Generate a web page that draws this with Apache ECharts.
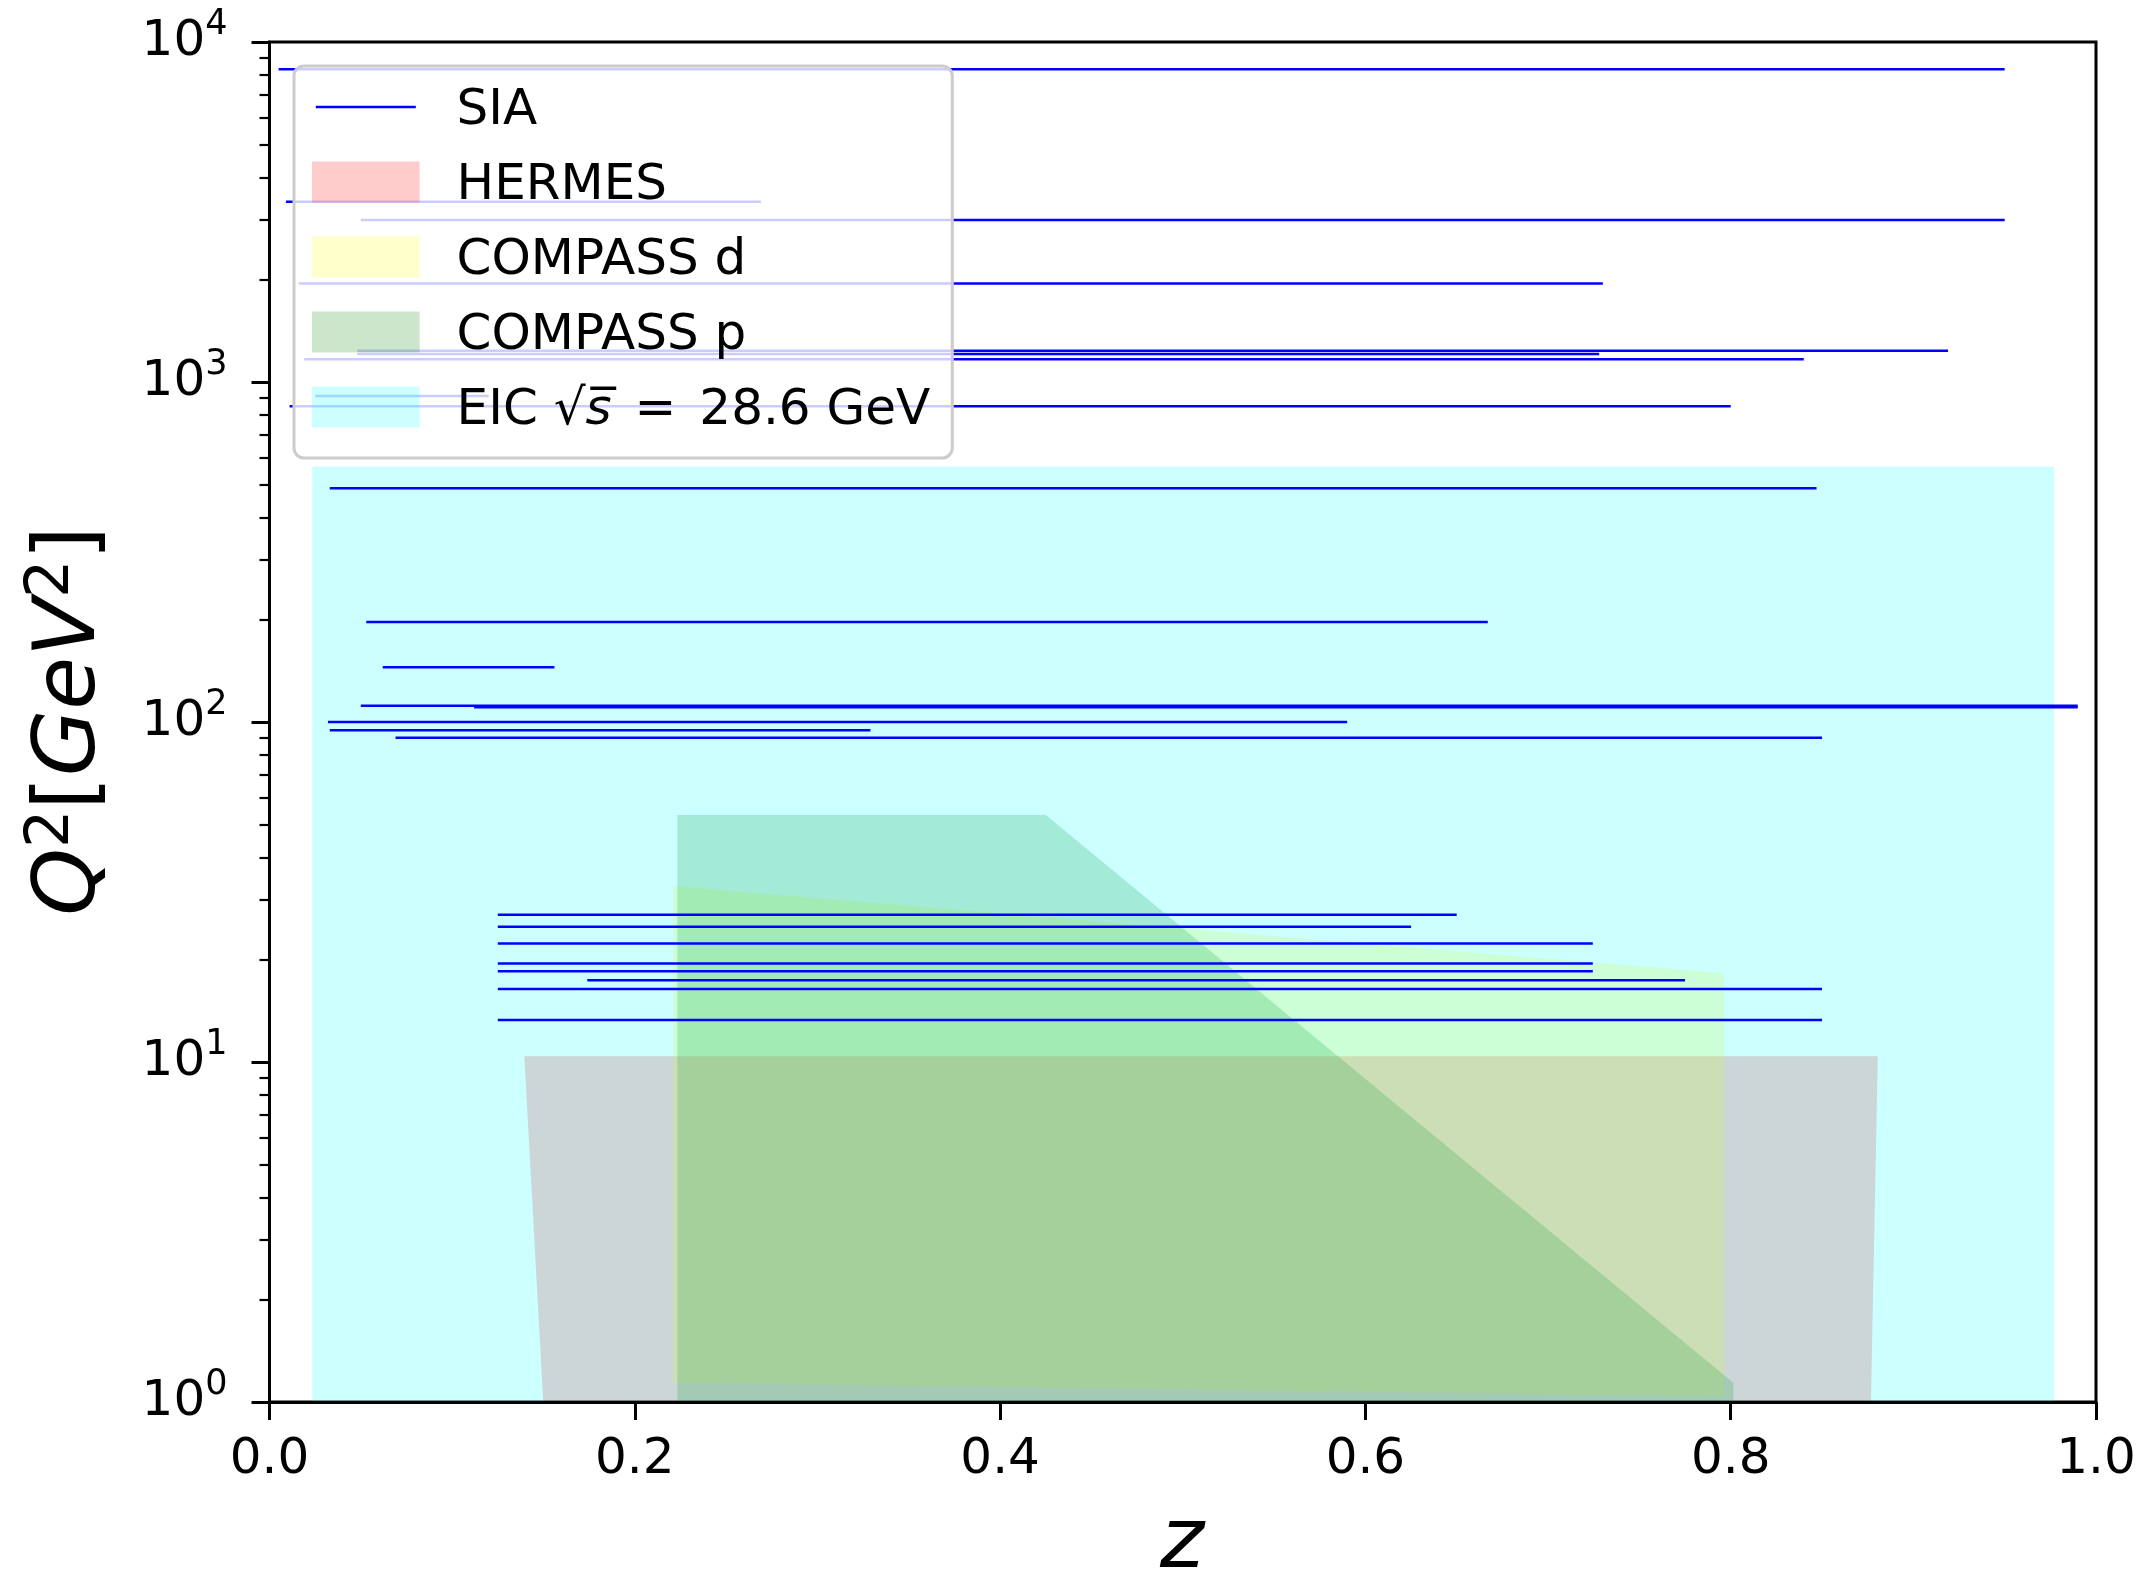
<!DOCTYPE html>
<html><head><meta charset="utf-8">
<script src="https://cdn.jsdelivr.net/npm/echarts@6/dist/echarts.min.js"></script>
<style>html,body{margin:0;padding:0;background:#fff}#c{width:2145px;height:1576px}</style>
</head><body><div id="c"></div>
<script>
// ---- data ----
const siaQ2   = [8315, 3390, 2995, 1950, 1236, 1209, 1166, 910, 848, 487, 197, 145, 111.7, 110.5, 100, 94.6, 89.9, 27.1, 25.0, 22.3, 19.5, 18.5, 17.4, 16.4, 13.3];
const siaZmin = [0.005, 0.009, 0.050, 0.016, 0.048, 0.048, 0.019, 0.025, 0.011, 0.033, 0.053, 0.062, 0.050, 0.112, 0.032, 0.033, 0.069, 0.125, 0.125, 0.125, 0.125, 0.125, 0.174, 0.125, 0.125];
const siaZmax = [0.950, 0.269, 0.950, 0.730, 0.919, 0.728, 0.840, 0.120, 0.800, 0.847, 0.667, 0.156, 0.990, 0.990, 0.590, 0.329, 0.850, 0.650, 0.625, 0.7245, 0.7245, 0.7245, 0.775, 0.850, 0.850];

const hermesZ   = [0.1499, 0.1395, 0.8805, 0.8768];
const hermesQ2  = [1, 10.4, 10.4, 1];
const compassDZ  = [0.2211, 0.2211, 0.7963, 0.7963];
const compassDQ2 = [1.14, 32.9, 18.25, 1.04];
const compassPZ  = [0.2233, 0.2233, 0.425, 0.8014, 0.8014];
const compassPQ2 = [1, 53.3, 53.3, 1.14, 1];
const eicZ  = [0.0234, 0.0234, 0.977, 0.977];
const eicQ2 = [1, 564, 564, 1];

const xTickLabels = ['0.0', '0.2', '0.4', '0.6', '0.8', '1.0'];
const yMajorExp = [0, 1, 2, 3, 4];
const yMinor = [];
for (let k = 0; k < 4; k++) for (let m = 2; m <= 9; m++) yMinor.push(m * Math.pow(10, k));

// ---- chart ----
const chart = echarts.init(document.getElementById('c'), null, {renderer: 'canvas'});
const FONT = 'DejaVu Sans';

function area(name, zs, qs, color) {
  const data = zs.map((z, i) => [z, qs[i]]);
  return {
    type: 'custom', name: name, data: data, coordinateSystem: 'cartesian2d',
    xAxisIndex: 0, yAxisIndex: 0, z: 1, silent: true, clip: true,
    encode: {x: 0, y: 1},
    itemStyle: {color: color},
    renderItem: function (params, api) {
      if (params.dataIndex !== 0) return null;
      const pts = data.map(d => api.coord(d));
      return {type: 'polygon', shape: {points: pts}, style: {fill: color}};
    }
  };
}

const series = [];
// legend carrier for SIA (no marks of its own)
series.push({
  type: 'custom', name: 'SIA', data: [], coordinateSystem: 'cartesian2d', silent: true,
  itemStyle: {color: '#0000ff'}, renderItem: () => null
});
series.push(area('HERMES', hermesZ, hermesQ2, 'rgba(255,0,0,0.2)'));
series.push(area('COMPASS d', compassDZ, compassDQ2, 'rgba(255,255,0,0.2)'));
series.push(area('COMPASS p', compassPZ, compassPQ2, 'rgba(0,128,0,0.2)'));
series.push(area('EIC', eicZ, eicQ2, 'rgba(0,255,255,0.2)'));
siaQ2.forEach((q, i) => {
  series.push({
    type: 'line', name: 'SIA', data: [[siaZmin[i], q], [siaZmax[i], q]],
    showSymbol: false, symbol: 'none', silent: true, z: 3,
    lineStyle: {color: '#0000ff', width: 2.5}, itemStyle: {color: '#0000ff'}
  });
});

const lineIcon = 'path://M0,0L0.01,0M100,41L99.99,41M0,19.25L100,19.25L100,21.75L0,21.75Z';

const option = {
  animation: false,
  backgroundColor: '#ffffff',
  grid: {left: 269.5, right: 49, top: 42, bottom: 174, show: true, borderColor: '#000', borderWidth: 3, backgroundColor: 'transparent'},
  xAxis: {
    type: 'value', min: 0, max: 1, interval: 0.2, z: 10,
    axisLine: {show: true, lineStyle: {color: '#000', width: 3}},
    axisTick: {show: true, length: 18, lineStyle: {color: '#000', width: 3}},
    splitLine: {show: false},
    axisLabel: {margin: 33, fontSize: 50, fontFamily: FONT, color: '#000',
      formatter: v => xTickLabels[Math.round(v / 0.2)]}
  },
  yAxis: [{
    type: 'log', logBase: 10, min: 1, max: 10000, interval: 1, z: 10,
    axisLine: {show: true, lineStyle: {color: '#000', width: 3}},
    axisTick: {show: true, length: 18, lineStyle: {color: '#000', width: 3}},
    splitLine: {show: false},
    axisLabel: {margin: 42, color: '#000',
      formatter: v => '{b|10}{s|' + yMajorExp[Math.round(Math.log10(v))] + '}',
      rich: {
        b: {fontSize: 50, fontFamily: FONT, color: '#000', lineHeight: 70, verticalAlign: 'middle'},
        s: {fontSize: 35, fontFamily: FONT, color: '#000', lineHeight: 35, verticalAlign: 'top'}
      }}
  }, {
    type: 'log', logBase: 10, min: 1, max: 10000, position: 'left', z: 10,
    axisLine: {show: false}, axisLabel: {show: false}, splitLine: {show: false},
    axisTick: {show: true, length: 10, lineStyle: {color: '#000', width: 2.2}, customValues: yMinor}
  }],
  legend: {
    orient: 'vertical', left: 294, top: 66, selectedMode: false,
    padding: [11.5, 22, 21.5, 18],
    itemWidth: 107.6, itemHeight: 41, itemGap: 16,
    backgroundColor: 'rgba(255,255,255,0.8)', borderColor: '#cccccc', borderWidth: 3, borderRadius: 10,
    textStyle: {fontSize: 50, fontFamily: FONT, color: '#000', lineHeight: 50, padding: [9, 0, 0, 32],
      rich: {
        n: {fontSize: 50, fontFamily: FONT, color: '#000'},
        it: {fontSize: 50, fontFamily: FONT, fontStyle: 'italic', color: '#000'},
        eq: {fontSize: 50, fontFamily: FONT, color: '#000', padding: [0, 7, 0, 7]}
      }},
    formatter: name => name === 'EIC' ? '{n|EIC √}{it|s\u0305}{eq| = }{n|28.6 GeV}' : name,
    data: [
      {name: 'SIA', icon: lineIcon, itemStyle: {color: '#0000ff'}},
      {name: 'HERMES', icon: 'rect'},
      {name: 'COMPASS d', icon: 'rect'},
      {name: 'COMPASS p', icon: 'rect'},
      {name: 'EIC', icon: 'rect'}
    ]
  },
  graphic: [
    {type: 'text', x: 1182, y: 1545, silent: true,
     style: {text: 'z', fontSize: 84, fontFamily: FONT, fontStyle: 'italic', fill: '#000', align: 'center', verticalAlign: 'middle'}},
    {type: 'text', x: 72, y: 721, rotation: Math.PI / 2, silent: true,
     style: {text: '{i|Q}{s|2}{n|[}{i|GeV}{s|2}{n|]}', align: 'center', verticalAlign: 'middle',
       rich: {
         i: {fontSize: 86, fontFamily: FONT, fontStyle: 'italic', fill: '#000', lineHeight: 100, verticalAlign: 'middle'},
         n: {fontSize: 86, fontFamily: FONT, fill: '#000', lineHeight: 100, verticalAlign: 'middle'},
         s: {fontSize: 60, fontFamily: FONT, fill: '#000', lineHeight: 56, verticalAlign: 'top'}
       }}}
  ],
  series: series
};
chart.setOption(option);
</script>
</body></html>
